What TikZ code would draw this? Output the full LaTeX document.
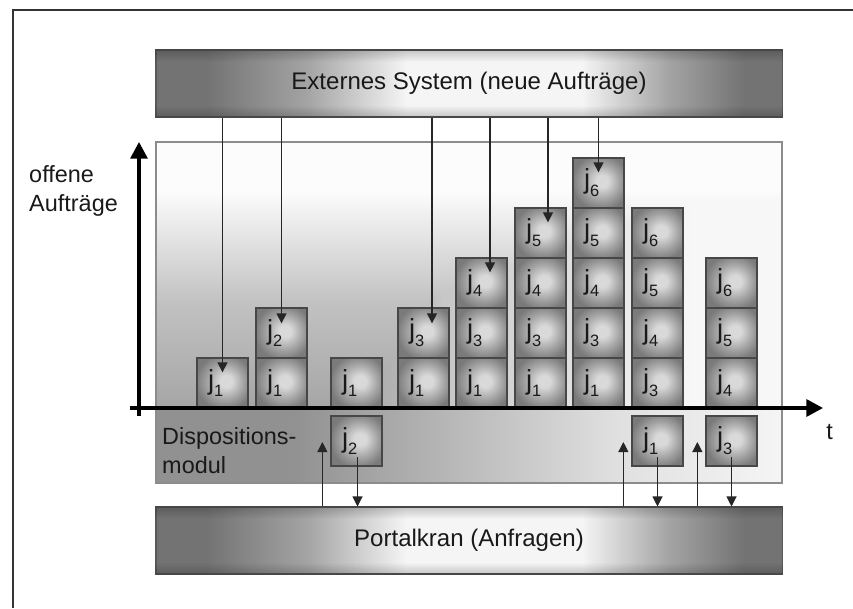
\documentclass[tikz,border=0pt]{standalone}
\usepackage{fontspec}
\setmainfont{Liberation Sans}
\usetikzlibrary{arrows.meta,calc,positioning}

% grey tones
\definecolor{inkgray}{gray}{0.1}
\definecolor{framegray}{gray}{0.2}
\definecolor{rimgray}{gray}{0.55}
\definecolor{bardark}{gray}{0.45}
\definecolor{barmid}{gray}{0.64}
\definecolor{barlight}{gray}{0.96}
\definecolor{baredge}{gray}{0.8}
\definecolor{boxedge}{gray}{0.28}
\definecolor{boxdark}{gray}{0.48}
\definecolor{boxmid}{gray}{0.64}
\definecolor{boxlight}{gray}{0.85}
\definecolor{paneldark}{gray}{0.65}
\definecolor{panelmid}{gray}{0.76}
\definecolor{panellight}{gray}{0.99}
\definecolor{liftdark}{gray}{0.55}
\definecolor{liftmid}{gray}{0.78}
\definecolor{liftlight}{gray}{0.97}
\definecolor{banddark}{gray}{0.57}
\definecolor{bandmid}{gray}{0.88}
\definecolor{bandlight}{gray}{0.96}

\pgfdeclarehorizontalshading{barshade}{100bp}{color(0bp)=(bardark); color(29bp)=(bardark); color(37bp)=(barmid); color(45bp)=(barlight); color(59bp)=(barlight); color(66bp)=(barmid); color(72bp)=(bardark); color(100bp)=(bardark)}
\pgfdeclareverticalshading{baredges}{100bp}{color(0bp)=(baredge); color(25bp)=(baredge); color(34bp)=(white); color(66bp)=(white); color(75bp)=(baredge); color(100bp)=(baredge)}
\pgfdeclareradialshading{boxglow}{\pgfpoint{4bp}{2bp}}{color(0bp)=(boxlight); color(6bp)=(boxlight); color(18bp)=(boxmid); color(28bp)=(boxdark); color(50bp)=(boxdark)}
\pgfdeclareverticalshading{panelshade}{100bp}{color(0bp)=(paneldark); color(25bp)=(paneldark); color(45bp)=(panelmid); color(66bp)=(panellight); color(100bp)=(panellight)}
\pgfdeclarehorizontalshading{panellift}{100bp}{color(0bp)=(liftdark); color(36bp)=(liftdark); color(48bp)=(liftmid); color(68bp)=(liftlight); color(100bp)=(liftlight)}
\pgfdeclarehorizontalshading{bandshade}{100bp}{color(0bp)=(banddark); color(36bp)=(banddark); color(62bp)=(bandmid); color(75bp)=(bandlight); color(100bp)=(bandlight)}

\newcommand{\jsub}[1]{j{\fontsize{14}{14}\selectfont\raisebox{-6.8pt}{#1}}}

\begin{document}
\begin{tikzpicture}[x=0.03cm, y=-0.03cm,
  bar/.style={draw=black!65, line width=0.9pt, shade, shading=barshade, minimum width=18.78cm, minimum height=2.01cm, inner sep=0pt, font=\fontsize{20.5}{24}\selectfont, text=inkgray},
  jobbox/.style={draw=boxedge, line width=1.1pt, shade, shading=boxglow, minimum height=1.5cm, text width=0.87cm, inner xsep=0.33cm, inner ysep=0pt, align=left, font=\fontsize{23.5}{23.5}\selectfont, text=inkgray},
  note/.style={inner sep=0pt, align=left, font=\fontsize{20}{24.8}\selectfont, text=inkgray},
  axis/.style={line width=2.8pt, -{Triangle[width=0.51cm,length=0.5cm]}},
  feed/.style={line width=0.9pt, draw=black!85, -{Triangle[width=0.3cm,length=0.3cm]}}]
  \useasboundingbox (0,0) rectangle (853,608);
  \draw[framegray, line width=1.6pt] (13,608) -- (13,10) -- (853,10);

  % panel with the queue
  \shade[shading=panelshade] (156,142) rectangle (782,408);
  \shade[shading=panellift, blend mode=lighten] (156,142) rectangle (782,408);
  \shade[shading=bandshade] (156,408) rectangle (782,483);
  \draw[rimgray, line width=1pt] (156,142) rectangle (782,483);

  \node[bar] (ext) at (469,83.5) {Externes System (neue Aufträge)};
  \shade[shading=baredges, blend mode=multiply] (ext.south west) rectangle (ext.north east);
  \node[bar] (kran) at (469,540.5) {Portalkran (Anfragen)};
  \shade[shading=baredges, blend mode=multiply] (kran.south west) rectangle (kran.north east);

  \node[note, anchor=north west] (ylab) at (29,165) {offene\\Aufträge};
  \node[note, anchor=north west] (disp) at (162,427) {Dispositions-\\modul};
  \node[note] (tlab) at (829.5,432) {t};

  % open orders over time
  \node[jobbox] (c1r1) at (222.5,383) {\jsub{1}};
  \node[jobbox] (c2r1) at (281.5,383) {\jsub{1}};
  \node[jobbox] (c2r2) at (281.5,333) {\jsub{2}};
  \node[jobbox] (c3r1) at (356.5,383) {\jsub{1}};
  \node[jobbox] (c4r1) at (423.5,383) {\jsub{1}};
  \node[jobbox] (c4r2) at (423.5,333) {\jsub{3}};
  \node[jobbox] (c5r1) at (481.5,383) {\jsub{1}};
  \node[jobbox] (c5r2) at (481.5,333) {\jsub{3}};
  \node[jobbox] (c5r3) at (481.5,283) {\jsub{4}};
  \node[jobbox] (c6r1) at (540.5,383) {\jsub{1}};
  \node[jobbox] (c6r2) at (540.5,333) {\jsub{3}};
  \node[jobbox] (c6r3) at (540.5,283) {\jsub{4}};
  \node[jobbox] (c6r4) at (540.5,233) {\jsub{5}};
  \node[jobbox] (c7r1) at (598.5,383) {\jsub{1}};
  \node[jobbox] (c7r2) at (598.5,333) {\jsub{3}};
  \node[jobbox] (c7r3) at (598.5,283) {\jsub{4}};
  \node[jobbox] (c7r4) at (598.5,233) {\jsub{5}};
  \node[jobbox] (c7r5) at (598.5,183) {\jsub{6}};
  \node[jobbox] (c8r1) at (657.5,383) {\jsub{3}};
  \node[jobbox] (c8r2) at (657.5,333) {\jsub{4}};
  \node[jobbox] (c8r3) at (657.5,283) {\jsub{5}};
  \node[jobbox] (c8r4) at (657.5,233) {\jsub{6}};
  \node[jobbox] (c9r1) at (731.5,383) {\jsub{4}};
  \node[jobbox] (c9r2) at (731.5,333) {\jsub{5}};
  \node[jobbox] (c9r3) at (731.5,283) {\jsub{6}};
  % handed to the crane
  \node[jobbox] (d3) at (356.5,441) {\jsub{2}};
  \node[jobbox] (d8) at (657.5,441) {\jsub{1}};
  \node[jobbox] (d9) at (731.5,441) {\jsub{3}};

  \draw[axis] (139,416) -- (139,142);
  \draw[axis] (130,408) -- (823,408);

  % new orders
  \coordinate (a1) at ($(c1r1.north)+(0,15)$);
  \coordinate (a2) at ($(c2r2.north)+(0,16)$);
  \coordinate (a3) at ($(c4r2.north)+(8.5,16)$);
  \coordinate (a4) at ($(c5r3.north)+(8.5,15)$);
  \coordinate (a5) at ($(c6r4.north)+(7.5,15)$);
  \coordinate (a6) at ($(c7r5.north)+(0,15)$);
  \draw[feed] (ext.south -| a1) -- (a1);
  \draw[feed] (ext.south -| a2) -- (a2);
  \draw[feed] (ext.south -| a3) -- (a3);
  \draw[feed] (ext.south -| a4) -- (a4);
  \draw[feed] (ext.south -| a5) -- (a5);
  \draw[feed] (ext.south -| a6) -- (a6);

  % requests and answers
  \coordinate (u3) at ($(d3.west)+(-8,1)$);
  \coordinate (u8) at ($(d8.west)+(-8,1)$);
  \coordinate (u9) at ($(d9.west)+(-8,1)$);
  \coordinate (o3) at ($(d3.center)+(1,16)$);
  \coordinate (o8) at ($(d8.center)+(0,16)$);
  \coordinate (o9) at ($(d9.center)+(0,16)$);
  \draw[feed] (kran.north -| u3) -- (u3);
  \draw[feed] (kran.north -| u8) -- (u8);
  \draw[feed] (kran.north -| u9) -- (u9);
  \draw[feed] (o3) -- (kran.north -| o3);
  \draw[feed] (o8) -- (kran.north -| o8);
  \draw[feed] (o9) -- (kran.north -| o9);
\end{tikzpicture}
\end{document}
